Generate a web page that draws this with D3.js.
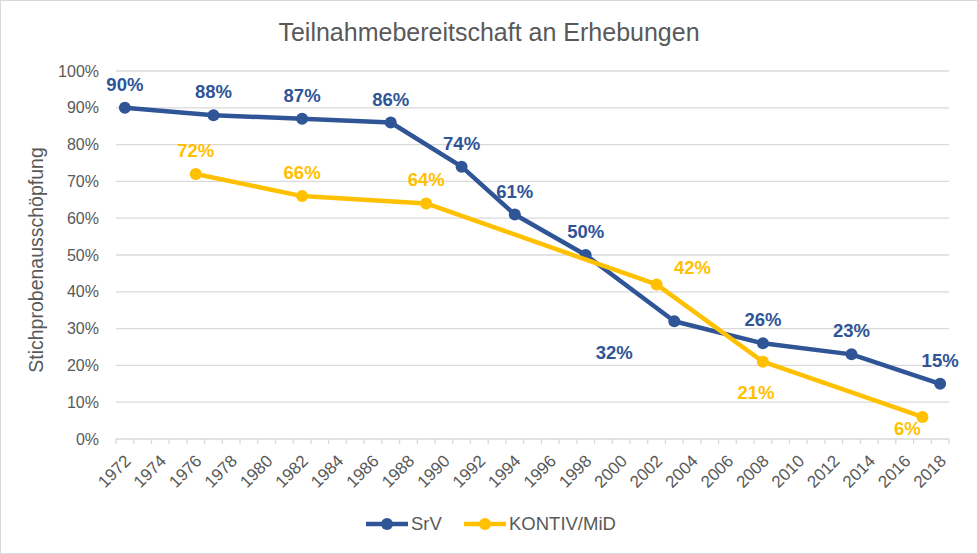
<!DOCTYPE html>
<html><head><meta charset="utf-8">
<script src="https://cdn.jsdelivr.net/npm/d3@7"></script>
<style>body{margin:0;background:#fff}svg{display:block}text{font-family:"Liberation Sans",Arial,sans-serif}</style>
</head><body>
<svg id="c" width="978" height="554"></svg>
<script>
const years = d3.range(1972, 2019);
const xTickLabels = d3.range(1972, 2019, 2);
const yTicks = [0,0.1,0.2,0.3,0.4,0.5,0.6,0.7,0.8,0.9,1.0];
const srvYears = [1972,1977,1982,1987,1991,1994,1998,2003,2008,2013,2018];
const srvValues = [0.90,0.88,0.87,0.86,0.74,0.61,0.50,0.32,0.26,0.23,0.15];
const srvLabelPos = ["above","above","above","above","above","above","above","belowleft","above","above","above"];
const kontivYears = [1976,1982,1989,2002,2008,2017];
const kontivValues = [0.72,0.66,0.64,0.42,0.21,0.06];
const kontivLabelPos = ["above","above","above","aboveright","below","left"];

const svg = d3.select("#c");
const W = 978, H = 554;
const m = {l:116, r:949, t:71, b:439};
const blue = "#2F5597", yellow = "#FFC000", grey = "#595959";

svg.append("rect").attr("x",0.5).attr("y",0.5).attr("width",W-1).attr("height",H-1)
  .attr("fill","#fff").attr("stroke","#D9D9D9");

const x = d3.scaleBand().domain(years).range([m.l, m.r]).paddingInner(0).paddingOuter(0);
const xc = yr => x(yr) + x.bandwidth()/2;
const y = d3.scaleLinear().domain([0,1]).range([m.b, m.t]);

// gridlines
svg.append("g").selectAll("line").data(yTicks.filter(d=>d>0)).join("line")
  .attr("x1",m.l).attr("x2",m.r).attr("y1",d=>y(d)).attr("y2",d=>y(d))
  .attr("stroke","#D9D9D9").attr("stroke-width",1.3);

// y axis labels
const yAxis = d3.axisLeft(y).tickValues(yTicks).tickFormat(d3.format(".0%")).tickSize(0).tickPadding(17);
const gy = svg.append("g").attr("transform",`translate(${m.l},0)`).call(yAxis);
gy.select(".domain").remove();
gy.selectAll("text").attr("fill",grey).style("font-size","16px").attr("font-family","Liberation Sans, Arial");

// x axis
const gx = svg.append("g").attr("transform",`translate(0,${m.b})`);
gx.append("line").attr("x1",m.l).attr("x2",m.r).attr("stroke","#D9D9D9").attr("stroke-width",1.3);
const tickXs = years.map(yr=>x(yr)).concat([m.r]);
gx.selectAll("line.t").data(tickXs).join("line").attr("class","t")
  .attr("x1",d=>d).attr("x2",d=>d).attr("y1",0).attr("y2",5).attr("stroke","#D9D9D9").attr("stroke-width",1.3);
gx.selectAll("text").data(xTickLabels).join("text")
  .attr("transform",d=>`translate(${xc(d)+7},${23}) rotate(-45)`)
  .attr("text-anchor","end").attr("fill",grey).style("font-size","17px").text(d=>d);

// title
svg.append("text").attr("x",489).attr("y",41).attr("text-anchor","middle")
  .attr("fill",grey).style("font-size","25px").text("Teilnahmebereitschaft an Erhebungen");
// y title
svg.append("text").attr("transform","translate(43,260) rotate(-90)").attr("text-anchor","middle")
  .attr("fill",grey).style("font-size","19.5px").text("Stichprobenausschöpfung");

const line = d3.line().x(d=>xc(d[0])).y(d=>y(d[1]));
function series(yrs, vals, pos, color){
  const data = yrs.map((yr,i)=>[yr, vals[i], pos[i]]);
  svg.append("path").datum(data).attr("d",line).attr("fill","none")
    .attr("stroke",color).attr("stroke-width",4.5).attr("stroke-linejoin","round");
  svg.append("g").selectAll("circle").data(data).join("circle")
    .attr("cx",d=>xc(d[0])).attr("cy",d=>y(d[1])).attr("r",6).attr("fill",color);
  const off = {above:[0,-17], belowleft:[-60,38], aboveright:[36,-10], below:[-7,37], left:[-15,18]};
  svg.append("g").selectAll("text").data(data).join("text")
    .attr("x",d=>xc(d[0])+off[d[2]][0]).attr("y",d=>y(d[1])+off[d[2]][1])
    .attr("text-anchor","middle").attr("fill",color).style("font-size","18.5px").style("font-weight","bold")
    .text(d=>d3.format(".0%")(d[1]));
}
series(srvYears, srvValues, srvLabelPos, blue);
series(kontivYears, kontivValues, kontivLabelPos, yellow);

// legend
const legend = [["SrV",blue,366],["KONTIV/MiD",yellow,464]];
const lg = svg.append("g");
legend.forEach(([name,color,lx])=>{
  lg.append("line").attr("x1",lx).attr("x2",lx+42).attr("y1",524).attr("y2",524).attr("stroke",color).attr("stroke-width",4.5);
  lg.append("circle").attr("cx",lx+21).attr("cy",524).attr("r",6).attr("fill",color);
  lg.append("text").attr("x",lx+45).attr("y",530).attr("fill",grey).style("font-size","18.5px").text(name);
});
</script>
</body></html>
